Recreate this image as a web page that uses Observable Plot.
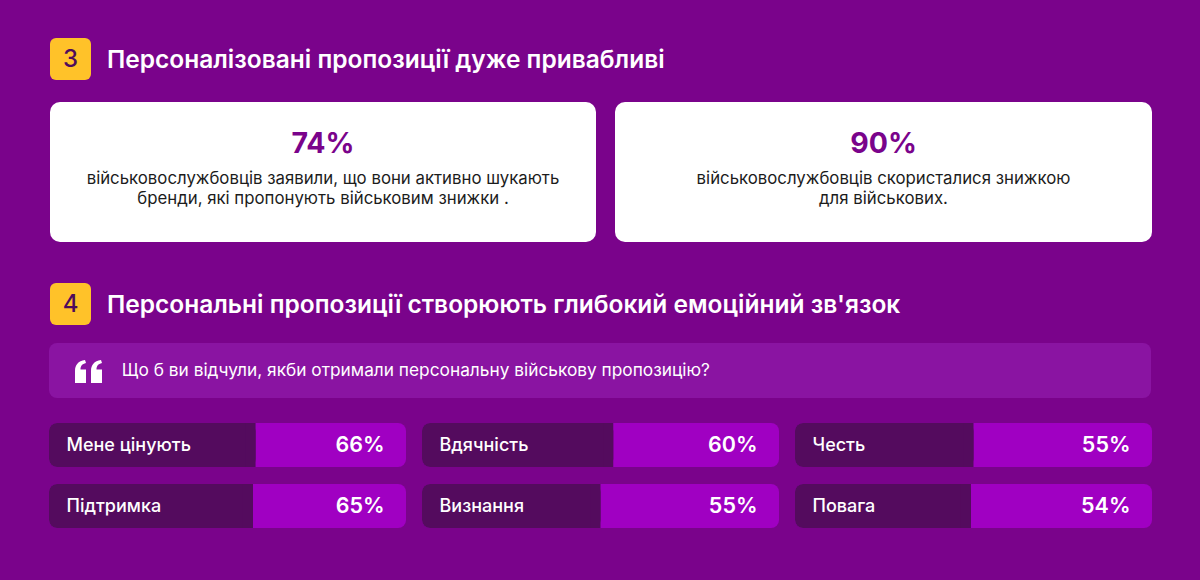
<!DOCTYPE html>
<html><head><meta charset="utf-8">
<script src="https://cdn.jsdelivr.net/npm/d3@7"></script>
<script src="https://cdn.jsdelivr.net/npm/@observablehq/plot@0.6"></script>
<style>
html,body{margin:0;padding:0;background:#7A038B;}
#wrap{position:relative;width:1200px;height:580px;background:#7A038B;overflow:hidden;font-family:Inter,"Noto Sans",sans-serif;}
.badge{position:absolute;left:50px;width:41px;height:42px;border-radius:6px;background:#FFC229;color:#4E0B5C;font:500 24px/42px Inter,sans-serif;text-align:center;}
.h{position:absolute;left:107px;color:#fff;font:600 24.5px/24px Inter,sans-serif;white-space:nowrap;}
.card{position:absolute;top:102px;height:140px;background:#fff;border-radius:10px;text-align:center;}
.card .big{position:absolute;left:0;right:0;top:26px;font:700 28.5px/30px Inter,sans-serif;color:#7A038B;}
.card .txt{position:absolute;left:0;right:0;top:65.5px;font:400 16.8px/20px Inter,sans-serif;color:#1c1c1c;}
.quote{position:absolute;left:49px;top:343px;width:1102px;height:55px;border-radius:8px;background:#8A14A2;}
.quote svg{position:absolute;left:26px;top:17px;}
.quote .q{position:absolute;left:72.7px;top:16.5px;font:400 17.3px/20px Inter,sans-serif;color:#fff;white-space:nowrap;}
#tiles{position:absolute;left:0;top:410px;}
</style></head>
<body><div id="wrap">
<div class="badge" style="top:38px">3</div>
<div class="h" style="top:47px">Персоналізовані пропозиції дуже привабливі</div>
<div class="card" style="left:50px;width:546px"><div class="big" id="big1"></div><div class="txt">військовослужбовців заявили, що вони активно шукають<br>бренди, які пропонують військовим знижки .</div></div>
<div class="card" style="left:615px;width:537px"><div class="big" id="big2"></div><div class="txt">військовослужбовців скористалися знижкою<br>для військових.</div></div>
<div class="badge" style="top:283px">4</div>
<div class="h" style="top:292px">Персональні пропозиції створюють глибокий емоційний зв'язок</div>
<div class="quote"><svg width="28" height="23" viewBox="0 0 28 23"><path fill="#fff" d="M0 23V11C0 5 3 1 10 0L11 3C7 4 5.5 6 5.5 9.5H11V23Z"/><path fill="#fff" transform="translate(16,0)" d="M0 23V11C0 5 3 1 10 0L11 3C7 4 5.5 6 5.5 9.5H11V23Z"/></svg><div class="q">Що б ви відчули, якби отримали персональну військову пропозицію?</div></div>
<div id="tiles"></div>
</div>
<script>
// Headline stats
const statValues = [74, 90];
// Tile data
const labels = ["Мене цінують","Підтримка","Вдячність","Визнання","Честь","Повага"];
const values = [66, 65, 60, 55, 55, 54];
const cols = [0, 0, 1, 1, 2, 2];
const rows = [0, 1, 0, 1, 0, 1];
const xDomain = [-15, 125];

document.getElementById("big1").textContent = statValues[0] + "%";
document.getElementById("big2").textContent = statValues[1] + "%";

const data = labels.map((label, i) => ({label, value: values[i], col: cols[i], row: rows[i]}));

const chart = Plot.plot({
  width: 1200, height: 130,
  marginLeft: 49, marginRight: 48, marginTop: 12, marginBottom: 11,
  x: {domain: xDomain, axis: null},
  fx: {axis: null, paddingInner: 0.0429, paddingOuter: 0},
  fy: {axis: null, paddingInner: 0.274, paddingOuter: 0},
  style: {background: "transparent", fontFamily: "Inter, sans-serif", overflow: "visible"},
  marks: [
    Plot.rect(data, {fx: "col", fy: "row", fill: "#A000C2", rx: 8}),
    Plot.rect(data, {fx: "col", fy: "row", x1: xDomain[0], x2: "value", fill: "#540B5E", rx: 8}),
    Plot.rect(data, {fx: "col", fy: "row", x1: d => d.value - 4, x2: "value", fill: "#540B5E"}),
    Plot.text(data, {fx: "col", fy: "row", text: "label", frameAnchor: "left", dx: 17, fill: "#fff", fontSize: 18, fontWeight: 500}),
    Plot.text(data, {fx: "col", fy: "row", text: d => d.value + "%", frameAnchor: "right", dx: -22, fill: "#fff", fontSize: 21.5, fontWeight: 600})
  ]
});
document.getElementById("tiles").appendChild(chart);
</script>
</body></html>
